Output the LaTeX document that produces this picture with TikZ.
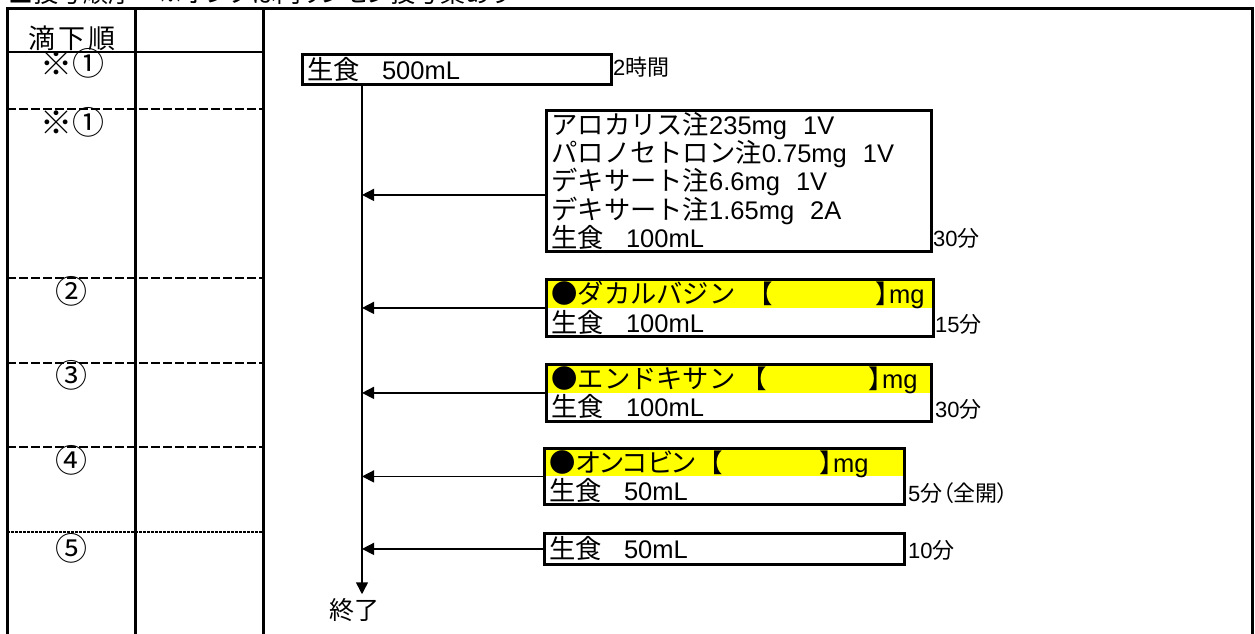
\documentclass[tikz,border=0pt]{standalone}
\usepackage{fontspec}
\setmainfont{Liberation Sans}
\newfontfamily\jp[RawFeature=+palt]{Noto Sans CJK JP}
\newfontfamily\jpw{Noto Sans CJK JP}
\usetikzlibrary{arrows.meta,calc}
\newcommand\J[1]{{\jp #1}}
\newcommand\K[1]{{\jpw\fontsize{26.3}{28.2}\selectfont #1}}
\newcommand\Kp[1]{{\jp\fontsize{26.3}{28.2}\selectfont #1}}
\definecolor{hl}{RGB}{255,255,0}
\tikzset{
 tbl/.style={line width=3pt, line join=miter},
 sepsolid/.style={line width=2pt},
 sepdash/.style={line width=2pt, dash pattern=on 9pt off 3pt},
 sepdot/.style={line width=2pt, dash pattern=on 2.5pt off 1.5pt},
 lbl/.style={inner sep=0pt, font=\jpw\fontsize{25}{25}\selectfont},
 numlbl/.style={inner sep=0pt, font=\jpw\fontsize{32}{32}\selectfont},
 box/.style={draw, line width=2.8pt, anchor=north west, inner xsep=5pt, inner ysep=0pt, align=left, font=\fontsize{25.5}{28.2}\selectfont},
 hlbox/.style={box, path picture={\fill[hl] (path picture bounding box.north west) rectangle (path picture bounding box.east);}},
 tlabel/.style={anchor=base west, inner sep=0pt, font=\fontsize{22}{22}\selectfont},
 conn/.style={line width=1.5pt, -{Triangle[length=12pt,width=12pt]}},
}
\begin{document}
\begin{tikzpicture}[x=1pt,y=-1pt]
\clip (0,0) rectangle (1255,633);
\fill[white] (0,0) rectangle (1255,633);
% title (cut off at the top)
\node[anchor=base west, inner sep=0pt, font=\jp\fontsize{25}{25}\selectfont] (title) at (8,2) {■投与順序　※ポンプは内リンセン投与薬あり};
% table
\draw[tbl] (7,640) -- (7,8) -- (1252,8) -- (1252,640);
\draw[tbl] (135,8) -- (135,640);
\draw[tbl] (263,8) -- (263,640);
\draw[sepsolid] (7,52) -- (263,52);
\foreach \y in {109,278,363,447} \draw[sepdash] (7,\y) -- (263,\y);
\draw[sepdot] (7,532) -- (263,532);
\node[lbl, font=\jpw\fontsize{27}{27}\selectfont] (h0) at (72,38) {滴\kern3pt 下\kern3pt 順};
\node[numlbl] (r1) at (72,63) {※①};
\node[numlbl] (r2) at (72,122) {※①};
\node[numlbl] (r3) at (71,291) {②};
\node[numlbl] (r4) at (71,375) {③};
\node[numlbl] (r5) at (71,460) {④};
\node[numlbl] (r6) at (71,548) {⑤};
% flow boxes
\node[box, text width=299pt, minimum height=30pt] (b0) at (301,53) {\K{生食}\hspace{22pt}500mL};
\node[box, text width=375pt, minimum height=141pt] (b1) at (545,109) {\K{アロカリス注}235mg\hspace{16pt}1V\\\K{パロノセトロン注}0.75mg\hspace{16pt}1V\\\K{デキサート注}6.6mg\hspace{16pt}1V\\\K{デキサート注}1.65mg\hspace{16pt}2A\\\K{生食}\hspace{22pt}100mL};
\node[hlbox, text width=377pt, minimum height=57pt] (b2) at (545,278) {\rlap{\K{●ダカルバジン}}\hspace{208pt}\rlap{\J{【}}\hspace{117pt}\J{】}mg\\\K{生食}\hspace{22pt}100mL};
\node[hlbox, text width=375pt, minimum height=57pt] (b3) at (545,363) {\rlap{\K{●エンドキサン}}\hspace{202pt}\rlap{\J{【}}\hspace{116pt}\J{】}mg\\\K{生食}\hspace{22pt}100mL};
\node[hlbox, text width=350pt, minimum height=56pt] (b4) at (543,447) {\rlap{\Kp{●オンコビン}}\hspace{160pt}\rlap{\J{【}}\hspace{111pt}\J{】}mg\\\K{生食}\hspace{22pt}50mL};
\node[box, text width=350pt, minimum height=31pt] (b5) at (543,532) {\K{生食}\hspace{22pt}50mL};
% time labels
\node[tlabel] (t0) at (613,75) {2\J{時間}};
\node[tlabel] (t1) at (933,246) {30\J{分}};
\node[tlabel] (t2) at (935,332) {15\J{分}};
\node[tlabel] (t3) at (935,417) {30\J{分}};
\node[tlabel] (t4) at (908,501) {5\J{分（全開）}};
\node[tlabel] (t5) at (908,558) {10\J{分}};
% trunk and connectors
\coordinate (trunk) at (362,83);
\node[lbl] (fin) at (354,610) {終了};
\draw[conn, shorten >=4pt] (trunk) -- (trunk |- fin.north);
\coordinate (a1) at ($(b1.west)+(0,14)$);
\draw[conn] (a1) -- (a1 -| trunk);
\foreach \b in {b2,b3,b4,b5} \draw[conn] (\b.west) -- (\b.west -| trunk);
\end{tikzpicture}
\end{document}
